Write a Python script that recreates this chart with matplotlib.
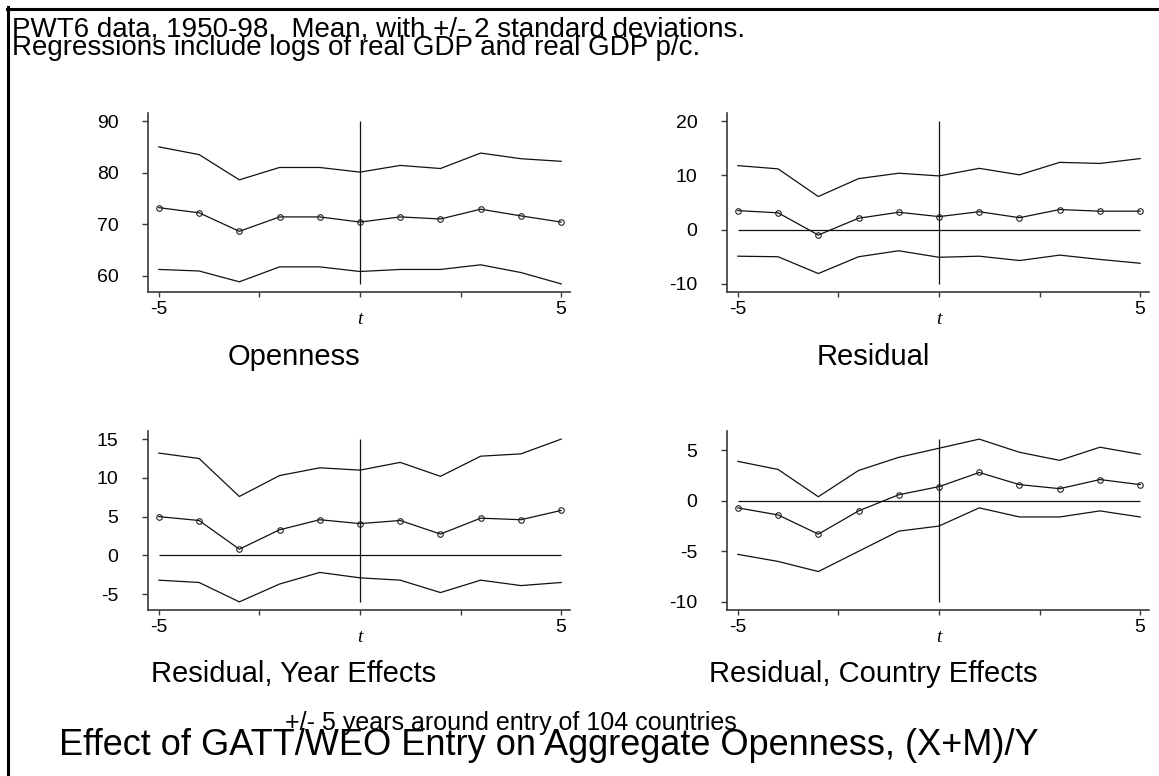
import matplotlib
matplotlib.use("Agg")
import matplotlib.pyplot as plt
from matplotlib.lines import Line2D
from matplotlib.transforms import blended_transform_factory

plt.rcParams['font.family'] = ['Liberation Sans', 'DejaVu Sans']

# years relative to GATT/WTO entry
YEARS = [-5, -4, -3, -2, -1, 0, 1, 2, 3, 4, 5]

# Openness
open_mean = [73.2, 72.2, 68.6, 71.4, 71.4, 70.4, 71.4, 71.0, 72.9, 71.6, 70.4]
open_hi = [85.0, 83.5, 78.6, 81.0, 81.0, 80.1, 81.4, 80.8, 83.8, 82.7, 82.2]
open_lo = [61.2, 60.9, 58.8, 61.7, 61.7, 60.8, 61.2, 61.2, 62.1, 60.6, 58.4]
open_ticks = [60, 70, 80, 90]

# Residual
resid_mean = [3.5, 3.1, -1.0, 2.1, 3.2, 2.4, 3.3, 2.2, 3.7, 3.4, 3.4]
resid_hi = [11.8, 11.2, 6.1, 9.4, 10.4, 9.9, 11.3, 10.1, 12.4, 12.2, 13.1]
resid_lo = [-4.9, -5.0, -8.1, -5.0, -3.9, -5.1, -4.9, -5.7, -4.7, -5.5, -6.2]
resid_ticks = [-10, 0, 10, 20]

# Residual, year effects
year_mean = [5.0, 4.5, 0.8, 3.3, 4.6, 4.1, 4.5, 2.75, 4.8, 4.6, 5.8]
year_hi = [13.2, 12.5, 7.6, 10.3, 11.3, 11.0, 12.0, 10.2, 12.8, 13.1, 15.0]
year_lo = [-3.2, -3.5, -6.0, -3.7, -2.2, -2.9, -3.2, -4.8, -3.2, -3.9, -3.5]
year_ticks = [-5, 0, 5, 10, 15]

# Residual, country effects
ctry_mean = [-0.7, -1.4, -3.3, -1.0, 0.6, 1.4, 2.8, 1.6, 1.2, 2.1, 1.6]
ctry_hi = [3.9, 3.1, 0.4, 3.0, 4.3, 5.2, 6.1, 4.8, 4.0, 5.3, 4.6]
ctry_lo = [-5.3, -6.0, -7.0, -5.0, -3.0, -2.5, -0.7, -1.6, -1.6, -1.0, -1.6]
ctry_ticks = [-10, -5, 0, 5]

PANELS = [
    ("Openness", open_mean, open_hi, open_lo, open_ticks),
    ("Residual", resid_mean, resid_hi, resid_lo, resid_ticks),
    ("Residual, Year Effects", year_mean, year_hi, year_lo, year_ticks),
    ("Residual, Country Effects", ctry_mean, ctry_hi, ctry_lo, ctry_ticks),
]

W, H = 1159, 776
# axes boxes in pixels: (left, top, right, bottom)
BOXES = [(148, 113, 570, 292), (727, 113, 1149, 292),
         (148, 431, 570, 610), (727, 431, 1149, 610)]
TITLE_POS = [(294, 365), (873, 365), (294, 682), (873, 682)]

AXCOL = '#3a3a3a'
LINECOL = '#111111'


def px(x, y):
    return x / W, 1 - y / H


def draw_panel(ax, mean, hi, lo, ticks):
    ymin = min(min(lo), ticks[0])
    ymax = max(max(hi), ticks[-1])
    pad = 0.05 * (ymax - ymin)
    ax.set_ylim(ymin - pad, ymax + pad)
    ax.set_xlim(-5.27, 5.22)

    ax.plot(YEARS, hi, color=LINECOL, lw=0.9)
    ax.plot(YEARS, lo, color=LINECOL, lw=0.9)
    ax.plot(YEARS, mean, color=LINECOL, lw=0.9, marker='o', ms=4,
            mfc='none', mec='#222222', mew=0.8)
    ax.vlines(0, ymin, ymax, color=LINECOL, lw=0.9)
    if ymin < 0 < ymax:
        ax.hlines(0, YEARS[0], YEARS[-1], color=LINECOL, lw=0.9)

    for s in ('top', 'right'):
        ax.spines[s].set_visible(False)
    for s in ('left', 'bottom'):
        ax.spines[s].set_color(AXCOL)
        ax.spines[s].set_linewidth(1.2)

    ax.set_yticks(ticks)
    ax.set_yticklabels([str(t) for t in ticks])
    ax.set_xticks([-5, -2.5, 0, 2.5, 5])
    ax.set_xticklabels(['-5', '', '', '', '5'])
    ax.tick_params(axis='y', direction='out', length=4.3, width=1.0,
                   color=AXCOL, pad=17, labelsize=14)
    ax.tick_params(axis='x', direction='out', length=3.6, width=1.0,
                   color=AXCOL, pad=3, labelsize=14)
    tr = blended_transform_factory(ax.transData, ax.transAxes)
    ax.text(0, -0.155, 't', transform=tr, ha='center', va='center',
            fontsize=14, style='italic', family='Liberation Serif')


fig = plt.figure(figsize=(W / 100, H / 100), dpi=100)
fig.patch.set_facecolor('white')

for (title, mean, hi, lo, ticks), box, tpos in zip(PANELS, BOXES, TITLE_POS):
    l, t, r, b = box
    ax = fig.add_axes([l / W, 1 - b / H, (r - l) / W, (b - t) / H])
    ax.patch.set_alpha(0)
    draw_panel(ax, mean, hi, lo, ticks)
    fig.text(*px(*tpos), title, ha='center', va='baseline', fontsize=21)

# frame (only top and left edges visible in the original crop)
fig.add_artist(Line2D([7 / W, 1], [1 - 8.5 / H, 1 - 8.5 / H],
                      transform=fig.transFigure, color='black', lw=2.2))
fig.add_artist(Line2D([8 / W, 8 / W], [1 - 7 / H, 0],
                      transform=fig.transFigure, color='black', lw=2.2))

fig.text(*px(12, 36), "PWT6 data, 1950-98.  Mean, with +/- 2 standard deviations.",
         ha='left', va='baseline', fontsize=20)
fig.text(*px(12, 55), "Regressions include logs of real GDP and real GDP p/c.",
         ha='left', va='baseline', fontsize=20)
fig.text(*px(511, 730), "+/- 5 years around entry of 104 countries",
         ha='center', va='baseline', fontsize=18)
fig.text(*px(549, 755), "Effect of GATT/WEO Entry on Aggregate Openness, (X+M)/Y",
         ha='center', va='baseline', fontsize=26)

fig.savefig("out.png", dpi=100, facecolor='white')
